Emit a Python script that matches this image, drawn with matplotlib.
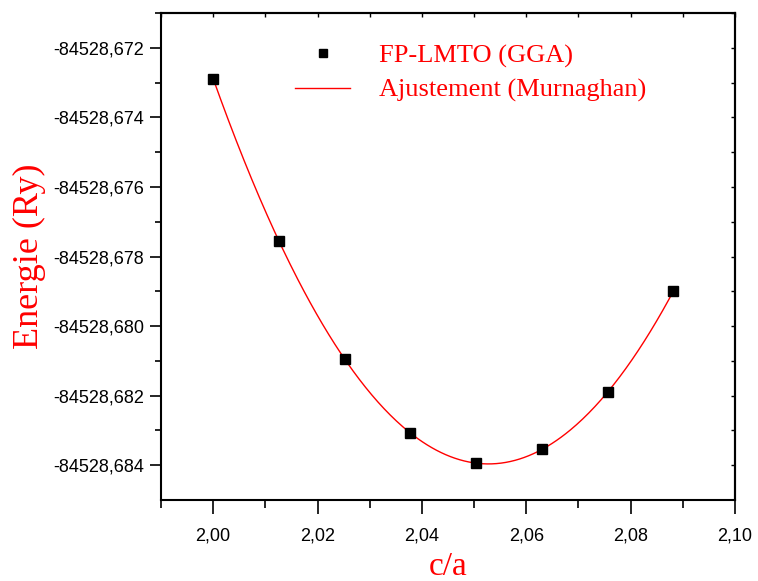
import numpy as np
import matplotlib
matplotlib.use("Agg")
import matplotlib.pyplot as plt
from matplotlib.ticker import MultipleLocator, FuncFormatter

# c/a values and total energies (Ry)
ca = [2.0000, 2.0126, 2.0252, 2.0378, 2.0504, 2.0630, 2.0756, 2.0882]
energy = [-84528.67289, -84528.67755, -84528.68095, -84528.68308,
          -84528.68394, -84528.68354, -84528.68190, -84528.67899]

# smooth fitted curve through the computed points
coef = np.polyfit(ca, energy, 3)
x_fit = np.linspace(min(ca), max(ca), 300)
y_fit = np.polyval(coef, x_fit)

fig = plt.figure(figsize=(7.58, 5.81), dpi=100)
ax = fig.add_axes([0.2124, 0.1394, 0.7573, 0.8382])

ax.plot(x_fit, y_fit, color="red", lw=1, label="Ajustement (Murnaghan)", zorder=2)
ax.plot(ca, energy, ls="none", marker="s", ms=7, color="black",
        label="FP-LMTO (GGA)", zorder=3)

ax.set_xlim(1.99, 2.10)
ax.set_ylim(-84528.685, -84528.671)

ax.xaxis.set_major_locator(MultipleLocator(0.02))
ax.xaxis.set_minor_locator(MultipleLocator(0.01))
ax.yaxis.set_major_locator(MultipleLocator(0.002))
ax.yaxis.set_minor_locator(MultipleLocator(0.001))

ax.xaxis.set_major_formatter(FuncFormatter(lambda v, p: f"{v:.2f}".replace(".", ",")))
ax.yaxis.set_major_formatter(FuncFormatter(lambda v, p: f"{v:.3f}".replace(".", ",")))

tick_font = "Liberation Sans"
ax.tick_params(which="both", direction="out", labelsize=13, width=1.2)
ax.tick_params(axis="x", which="major", length=10, pad=10)
ax.tick_params(axis="x", which="minor", length=6)
ax.tick_params(axis="y", which="major", length=8, pad=4)
ax.tick_params(axis="y", which="minor", length=4)
for lab in ax.get_xticklabels() + ax.get_yticklabels():
    lab.set_fontfamily(tick_font)

for s in ax.spines.values():
    s.set_linewidth(1.5)

# inward ticks on top and right
top = ax.secondary_xaxis("top")
top.xaxis.set_major_locator(MultipleLocator(0.02))
top.xaxis.set_minor_locator(MultipleLocator(0.01))
top.tick_params(which="both", direction="in", length=3, width=1, labeltop=False)
top.spines["top"].set_linewidth(1.5)
right = ax.secondary_yaxis("right")
right.yaxis.set_major_locator(MultipleLocator(0.002))
right.yaxis.set_minor_locator(MultipleLocator(0.001))
right.tick_params(which="both", direction="in", length=3, width=1, labelright=False)
right.spines["right"].set_linewidth(1.5)

ax.set_xlabel("c/a", fontsize=24, color="red", family="Liberation Serif")
ax.xaxis.set_label_coords(0.5, -0.105)
ax.set_ylabel("Energie (Ry)", fontsize=26, color="red", family="Liberation Serif", labelpad=5)

handles, labels = ax.get_legend_handles_labels()
leg = ax.legend(handles[::-1], labels[::-1], loc="upper left",
                bbox_to_anchor=(0.192, 0.985), frameon=False,
                prop={"family": "Liberation Serif", "size": 19},
                handlelength=2.1, handletextpad=1.1, labelspacing=0.4,
                markerscale=0.9)
for t in leg.get_texts():
    t.set_color("red")

fig.savefig("out.png", dpi=100)
